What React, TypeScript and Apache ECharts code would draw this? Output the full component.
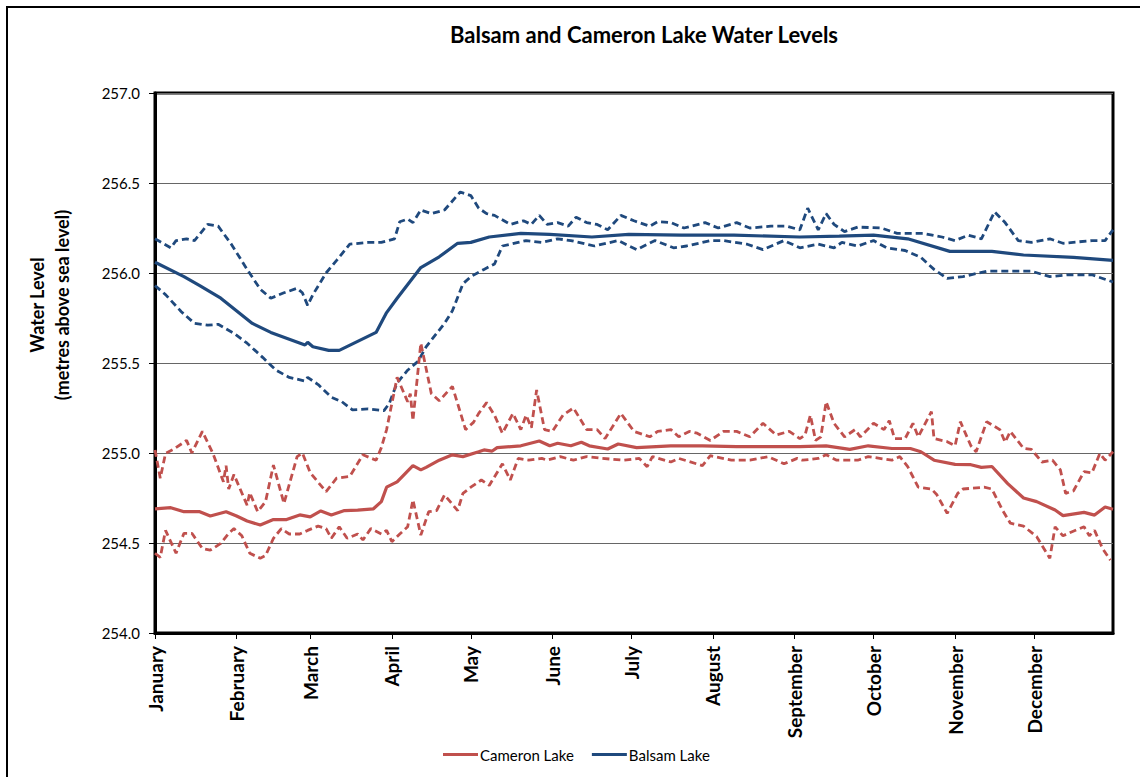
import React, { useEffect, useRef } from "react";
import * as echarts from "echarts";

// Day of year (0 = 1 January) and water level (m above sea level)
const monthStarts = [0, 31, 59, 90, 120, 151, 181, 212, 243, 273, 304, 334];
const monthNames = ["January", "February", "March", "April", "May", "June", "July", "August", "September", "October", "November", "December"];
const yTicks = [254.0, 254.5, 255.0, 255.5, 256.0, 256.5, 257.0];

const balsamAvg: [number, number][] = [
  [0, 256.06], [11, 255.98], [17, 255.93], [25, 255.86], [37, 255.72], [44, 255.67], [57, 255.60], [58, 255.615], [60, 255.59],
  [66, 255.57], [70, 255.57], [77, 255.62], [84, 255.67], [88, 255.78], [92, 255.86], [101, 256.03], [108, 256.09], [115, 256.165],
  [120, 256.17], [127, 256.20], [139, 256.22], [150, 256.215], [166, 256.20], [180, 256.215], [200, 256.21], [220, 256.21],
  [245, 256.20], [260, 256.205], [273, 256.21], [286, 256.19], [302, 256.12], [318, 256.12], [330, 256.10], [349, 256.087], [364, 256.07],
];

const balsamMax: [number, number][] = [
  [0, 256.19], [6, 256.14], [8, 256.18], [12, 256.19], [15, 256.18], [20, 256.27], [24, 256.26], [29, 256.16], [35, 256.02],
  [40, 255.91], [44, 255.86], [49, 255.89], [54, 255.915], [56, 255.89], [58, 255.82], [60, 255.88], [65, 256.0], [69, 256.07],
  [74, 256.16], [81, 256.17], [86, 256.17], [91, 256.19], [93, 256.285], [96, 256.30], [98, 256.28], [101, 256.35], [105, 256.33],
  [110, 256.35], [116, 256.45], [120, 256.43], [123, 256.36], [126, 256.33], [129, 256.32], [135, 256.27], [140, 256.29],
  [143, 256.27], [146, 256.32], [149, 256.27], [153, 256.28], [157, 256.26], [160, 256.31], [164, 256.28], [168, 256.27],
  [172, 256.24], [177, 256.32], [182, 256.29], [188, 256.26], [191, 256.285], [196, 256.28], [201, 256.25], [209, 256.28],
  [214, 256.25], [221, 256.28], [226, 256.25], [234, 256.26], [240, 256.26], [245, 256.24], [248, 256.36], [252, 256.24],
  [255, 256.33], [258, 256.27], [262, 256.23], [267, 256.255], [276, 256.25], [282, 256.22], [292, 256.22], [299, 256.20],
  [304, 256.18], [309, 256.21], [314, 256.19], [319, 256.34], [323, 256.28], [328, 256.18], [333, 256.17], [340, 256.19],
  [345, 256.165], [356, 256.18], [361, 256.18], [364, 256.24],
];

const balsamMin: [number, number][] = [
  [0, 255.93], [4, 255.88], [10, 255.785], [15, 255.72], [20, 255.71], [24, 255.715], [30, 255.665], [35, 255.61], [41, 255.53],
  [46, 255.46], [51, 255.42], [57, 255.40], [58, 255.42], [62, 255.38], [67, 255.31], [71, 255.285], [75, 255.24], [81, 255.245],
  [87, 255.235], [89, 255.275], [92, 255.39], [96, 255.46], [100, 255.51], [103, 255.59], [110, 255.72], [113, 255.79],
  [117, 255.94], [120, 255.98], [125, 256.02], [129, 256.05], [132, 256.15], [138, 256.17], [141, 256.18], [147, 256.17],
  [153, 256.19], [158, 256.18], [167, 256.15], [176, 256.18], [183, 256.13], [190, 256.18], [197, 256.14], [202, 256.15],
  [211, 256.18], [216, 256.18], [225, 256.16], [231, 256.13], [239, 256.18], [245, 256.14], [252, 256.16], [258, 256.14],
  [261, 256.17], [267, 256.15], [273, 256.18], [278, 256.14], [285, 256.125], [291, 256.087], [296, 256.02], [301, 255.97],
  [307, 255.98], [316, 256.01], [324, 256.01], [333, 256.01], [340, 255.98], [347, 255.99], [356, 255.99], [364, 255.95],
];

const cameronAvg: [number, number][] = [
  [0, 254.69], [6, 254.696], [11, 254.674], [17, 254.674], [21, 254.65], [27, 254.674], [31, 254.65], [35, 254.622], [40, 254.60],
  [45, 254.63], [50, 254.63], [55, 254.656], [59, 254.645], [63, 254.678], [67, 254.656], [72, 254.68], [77, 254.683], [83, 254.69],
  [86, 254.73], [88, 254.81], [92, 254.84], [98, 254.93], [101, 254.906], [103, 254.92], [108, 254.96], [113, 254.99], [117, 254.98],
  [123, 255.007], [125, 255.017], [128, 255.01], [130, 255.03], [139, 255.04], [146, 255.067], [150, 255.04], [153, 255.054],
  [158, 255.04], [162, 255.06], [165, 255.04], [172, 255.022], [176, 255.05], [183, 255.03], [196, 255.04], [208, 255.04],
  [221, 255.035], [234, 255.035], [245, 255.035], [255, 255.04], [264, 255.02], [271, 255.04], [280, 255.025], [287, 255.025],
  [291, 255.007], [296, 254.96], [304, 254.937], [310, 254.935], [314, 254.92], [318, 254.925], [324, 254.83], [330, 254.75],
  [335, 254.73], [342, 254.683], [345, 254.652], [353, 254.67], [357, 254.655], [361, 254.70], [364, 254.687],
];

const cameronMax: [number, number][] = [
  [0, 255.017], [2, 254.86], [4, 254.998], [7, 255.02], [11, 255.06], [12, 255.07], [14, 255.0], [18, 255.12], [22, 254.998],
  [26, 254.84], [27, 254.93], [28, 254.80], [30, 254.88], [35, 254.71], [36, 254.78], [39, 254.674], [42, 254.73], [45, 254.933],
  [49, 254.72], [54, 254.98], [56, 255.0], [59, 254.89], [65, 254.785], [69, 254.86], [74, 254.87], [79, 254.99], [84, 254.96],
  [86, 255.03], [88, 255.13], [92, 255.42], [96, 255.285], [97, 255.33], [98, 255.18], [101, 255.61], [105, 255.33], [108, 255.29],
  [113, 255.37], [118, 255.13], [121, 255.17], [123, 255.22], [126, 255.28], [129, 255.21], [132, 255.11], [136, 255.22],
  [139, 255.13], [141, 255.21], [143, 255.14], [145, 255.35], [148, 255.13], [151, 255.12], [155, 255.21], [159, 255.25],
  [164, 255.13], [168, 255.13], [171, 255.08], [177, 255.22], [182, 255.12], [188, 255.09], [191, 255.12], [196, 255.13],
  [199, 255.09], [203, 255.12], [206, 255.11], [211, 255.07], [216, 255.12], [221, 255.12], [226, 255.09], [231, 255.165],
  [236, 255.10], [241, 255.12], [245, 255.08], [247, 255.10], [249, 255.21], [251, 255.07], [253, 255.09], [255, 255.285],
  [258, 255.165], [262, 255.09], [266, 255.13], [268, 255.09], [273, 255.165], [277, 255.13], [279, 255.18], [281, 255.08],
  [285, 255.08], [288, 255.165], [290, 255.09], [295, 255.23], [296, 255.08], [301, 255.063], [304, 255.04], [306, 255.174],
  [310, 255.04], [312, 255.007], [316, 255.174], [321, 255.13], [323, 255.06], [325, 255.12], [330, 255.026], [333, 255.02],
  [337, 254.95], [341, 254.96], [344, 254.906], [346, 254.776], [349, 254.79], [353, 254.896], [356, 254.89], [359, 254.998],
  [361, 254.96], [364, 255.007],
];

const cameronMin: [number, number][] = [
  [0, 254.443], [2, 254.42], [4, 254.57], [8, 254.443], [11, 254.554], [14, 254.554], [18, 254.47], [21, 254.46], [25, 254.498],
  [28, 254.554], [30, 254.58], [33, 254.54], [36, 254.443], [40, 254.415], [42, 254.43], [45, 254.526], [48, 254.58], [51, 254.55],
  [55, 254.55], [58, 254.57], [62, 254.594], [65, 254.58], [67, 254.526], [70, 254.59], [73, 254.526], [77, 254.55], [79, 254.517],
  [82, 254.58], [86, 254.55], [88, 254.57], [90, 254.507], [93, 254.55], [96, 254.59], [98, 254.74], [101, 254.544], [104, 254.674],
  [107, 254.68], [110, 254.767], [115, 254.68], [117, 254.776], [120, 254.81], [124, 254.85], [127, 254.82], [132, 254.94],
  [135, 254.85], [138, 254.97], [142, 254.96], [147, 254.97], [149, 254.96], [154, 254.98], [159, 254.96], [164, 254.98],
  [170, 254.97], [178, 254.96], [184, 254.97], [187, 254.924], [189, 254.98], [196, 254.95], [199, 254.97], [208, 254.93],
  [211, 254.985], [219, 254.96], [226, 254.96], [233, 254.98], [239, 254.94], [244, 254.97], [246, 254.96], [252, 254.97],
  [255, 254.99], [259, 254.96], [267, 254.96], [271, 254.98], [280, 254.96], [283, 254.98], [286, 254.924], [290, 254.81],
  [295, 254.80], [297, 254.77], [301, 254.665], [305, 254.776], [307, 254.80], [315, 254.81], [318, 254.80], [322, 254.683],
  [325, 254.61], [330, 254.594], [335, 254.535], [340, 254.415], [342, 254.59], [345, 254.54], [348, 254.56], [353, 254.59],
  [355, 254.54], [357, 254.57], [360, 254.47], [363, 254.405],
];

const RED = "#C0504D";
const BLUE = "#1F497D";
const FONT = "Lato";

export default function App() {
  const ref = useRef<HTMLDivElement>(null);
  useEffect(() => {
    if (!ref.current) return;
    const chart = echarts.init(ref.current, undefined, { renderer: "svg" });
    const solid = (name: string, data: [number, number][], color: string) => ({
      name,
      type: "line",
      data,
      showSymbol: false,
      symbol: "none",
      lineStyle: { color, width: 3.2 },
      itemStyle: { color },
      z: 3,
    });
    const dashed = (name: string, data: [number, number][], color: string) => ({
      name,
      type: "line",
      data,
      showSymbol: false,
      symbol: "none",
      lineStyle: { color, width: 2.8, type: [7, 4] },
      itemStyle: { color },
      z: 2,
    });
    chart.setOption({
      animation: false,
      backgroundColor: "#fff",
      textStyle: { fontFamily: FONT },
      grid: {
        left: 155,
        right: 27,
        top: 93,
        bottom: 144,
        show: true,
        borderColor: "#000",
        borderWidth: 3,
        containLabel: false,
      },
      legend: {
        data: ["Cameron Lake", "Balsam Lake"],
        left: 438,
        top: 742,
        itemWidth: 35,
        itemHeight: 3,
        itemGap: 18,
        icon: "rect",
        textStyle: { fontFamily: FONT, fontSize: 15, color: "#000", padding: [0, 0, 0, -3] },
      },
      xAxis: {
        type: "value",
        min: 0,
        max: 364,
        axisLine: { show: true, lineStyle: { color: "#000", width: 3 } },
        axisTick: { show: true, customValues: monthStarts, length: 6, lineStyle: { color: "#000", width: 1 } },
        axisLabel: {
          customValues: monthStarts,
          rotate: 90,
          margin: 13,
          fontFamily: FONT,
          fontWeight: "bold",
          fontSize: 19,
          color: "#000",
          formatter: (v: number) => monthNames[monthStarts.indexOf(v)] ?? "",
        },
        splitLine: { show: false },
      },
      yAxis: {
        type: "value",
        min: yTicks[0],
        max: yTicks[yTicks.length - 1],
        interval: 0.5,
        axisLine: { show: true, lineStyle: { color: "#000", width: 3 } },
        axisTick: { show: true, length: 6, lineStyle: { color: "#000", width: 1 } },
        axisLabel: {
          margin: 15,
          fontFamily: FONT,
          fontSize: 15,
          color: "#000",
          formatter: (v: number) => v.toFixed(1),
        },
        splitLine: { show: true, lineStyle: { color: "#666", width: 1 } },
      },
      graphic: [
        {
          type: "rect",
          shape: { x: 7, y: 7, width: 1160, height: 800 },
          style: { fill: "none", stroke: "#000", lineWidth: 2 },
          silent: true,
        },
        {
          type: "text",
          x: 644,
          y: 34,
          style: {
            text: "Balsam and Cameron Lake Water Levels",
            fontFamily: FONT,
            fontWeight: "bold",
            fontSize: 22,
            fill: "#000",
            textAlign: "center",
            textVerticalAlign: "middle",
          },
        },
        {
          type: "text",
          x: 37,
          y: 305,
          rotation: Math.PI / 2,
          style: {
            text: "Water Level",
            fontFamily: FONT,
            fontWeight: "bold",
            fontSize: 18,
            fill: "#000",
            textAlign: "center",
            textVerticalAlign: "middle",
          },
        },
        {
          type: "text",
          x: 62,
          y: 305,
          rotation: Math.PI / 2,
          style: {
            text: "(metres above sea level)",
            fontFamily: FONT,
            fontWeight: "bold",
            fontSize: 18,
            fill: "#000",
            textAlign: "center",
            textVerticalAlign: "middle",
          },
        },
      ],
      series: [
        dashed("Balsam Lake max", balsamMax, BLUE),
        dashed("Balsam Lake min", balsamMin, BLUE),
        dashed("Cameron Lake max", cameronMax, RED),
        dashed("Cameron Lake min", cameronMin, RED),
        solid("Cameron Lake", cameronAvg, RED),
        solid("Balsam Lake", balsamAvg, BLUE),
      ],
    });
    return () => chart.dispose();
  }, []);
  return (
    <div
      ref={ref}
      style={{ position: "absolute", left: 0, top: 0, width: 1140, height: 777, background: "#fff" }}
    />
  );
}
